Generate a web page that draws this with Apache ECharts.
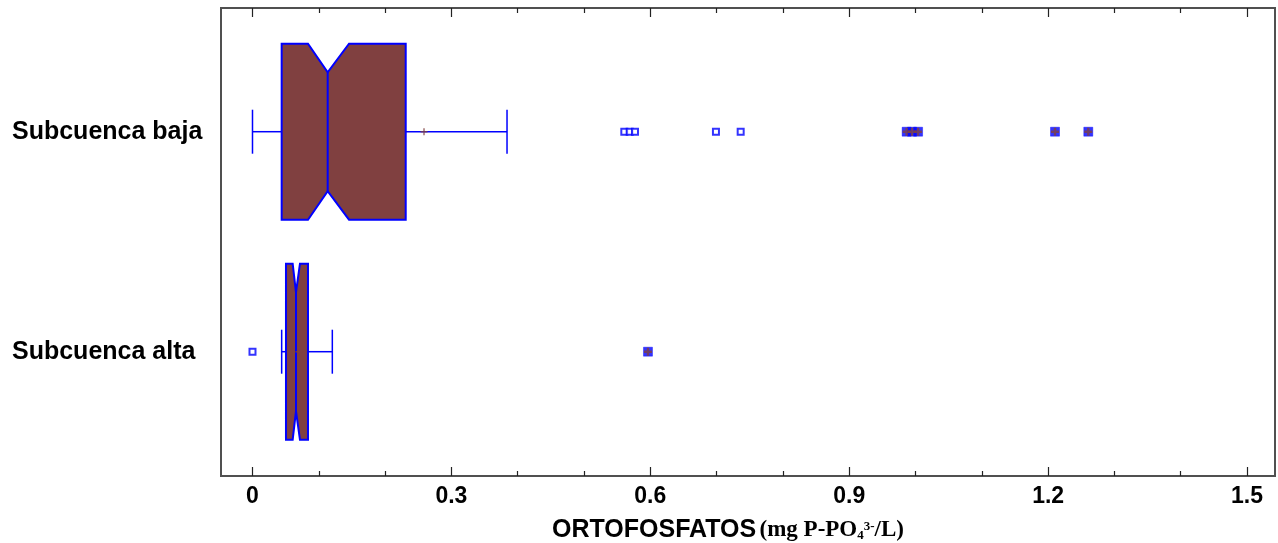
<!DOCTYPE html>
<html>
<head>
<meta charset="utf-8">
<script src="https://cdn.jsdelivr.net/npm/echarts@6/dist/echarts.min.js"></script>
<style>
html,body{margin:0;padding:0;background:#fff;}
#chart{width:1278px;height:543px;}
</style>
</head>
<body>
<div id="chart"></div>
<script>
// ---- data ----
const categories = ['Subcuenca alta', 'Subcuenca baja'];
// [whiskerLow, Q1, notchLow, median, notchHigh, Q3, whiskerHigh]
const boxStats = [
  [0.044, 0.0505, 0.0606, 0.0656, 0.0716, 0.0837, 0.1204],
  [0.000, 0.0440, 0.0837, 0.1134, 0.1456, 0.2311, 0.3839]
];
const means = [0.070, 0.2587];
// outside points (hollow squares)
const outsideAlta = [0.000];
const outsideBaja = [0.5608, 0.5689, 0.5769, 0.699, 0.7363];
// far outside points (squares with cross)
const farAlta = [0.5965];
const farBaja = [0.9866, 0.9947, 1.0039, 1.2104, 1.2606];
const majorTicks = [0, 0.3, 0.6, 0.9, 1.2, 1.5];
const minorTicks = [0.1, 0.2, 0.4, 0.5, 0.7, 0.8, 1.0, 1.1, 1.3, 1.4];

// ---- chart ----
const X_MIN = -0.0475, X_MAX = 1.5422;
const Y_MIN = -0.565, Y_MAX = 1.5623;
const HALF = 0.4, CAP = 0.1, NOTCH = 0.13;
const BLUE = '#0000ff', BROWN = '#804040';

const boxData = boxStats.map((s, i) => [i].concat(s));
const pts = (arr, idx) => arr.map(v => [v, idx]);

function renderBox(params, api) {
  const y = api.value(0);
  const wl = api.value(1), q1 = api.value(2), nl = api.value(3), md = api.value(4),
        nh = api.value(5), q3 = api.value(6), wh = api.value(7);
  const X = v => api.coord([v, y])[0];
  const yc = api.coord([0, y])[1];
  const yt = api.coord([0, y + HALF])[1];
  const yb = api.coord([0, y - HALF])[1];
  const yti = api.coord([0, y + HALF - NOTCH])[1];
  const ybi = api.coord([0, y - HALF + NOTCH])[1];
  const yct = api.coord([0, y + CAP])[1];
  const ycb = api.coord([0, y - CAP])[1];
  const poly = [
    [X(q1), yt], [X(nl), yt], [X(md), yti], [X(nh), yt], [X(q3), yt],
    [X(q3), yb], [X(nh), yb], [X(md), ybi], [X(nl), yb], [X(q1), yb]
  ];
  const ls = {stroke: BLUE, lineWidth: 1.5};
  return {
    type: 'group',
    children: [
      {type: 'line', shape: {x1: X(wl), y1: yc, x2: X(q1), y2: yc}, style: ls},
      {type: 'line', shape: {x1: X(q3), y1: yc, x2: X(wh), y2: yc}, style: ls},
      {type: 'line', shape: {x1: X(wl), y1: yct, x2: X(wl), y2: ycb}, style: ls},
      {type: 'line', shape: {x1: X(wh), y1: yct, x2: X(wh), y2: ycb}, style: ls},
      {type: 'polygon', shape: {points: poly}, style: {fill: BROWN, stroke: BLUE, lineWidth: 2}},
      {type: 'line', shape: {x1: X(md), y1: yti, x2: X(md), y2: ybi}, style: {stroke: BLUE, lineWidth: 2}}
    ]
  };
}

const crossPath = 'path://M-0.3,-1 L0.3,-1 L0.3,-0.3 L1,-0.3 L1,0.3 L0.3,0.3 L0.3,1 L-0.3,1 L-0.3,0.3 L-1,0.3 L-1,-0.3 L-0.3,-0.3 Z';
const meanPath = 'path://M-0.2,-1 L0.2,-1 L0.2,-0.2 L1,-0.2 L1,0.2 L0.2,0.2 L0.2,1 L-0.2,1 L-0.2,0.2 L-1,0.2 L-1,-0.2 L-0.2,-0.2 Z';

const chart = echarts.init(document.getElementById('chart'), null, {renderer: 'canvas'});
const tickLabelStyle = {fontFamily: 'Liberation Sans, Arial, sans-serif', fontWeight: 'bold', fontSize: 23, color: '#000'};
const baseX = {type: 'value', min: X_MIN, max: X_MAX, splitLine: {show: false}, axisLine: {show: false, onZero: false}};
const tickStyle = {color: '#222', width: 1.2};

chart.setOption({
  animation: false,
  backgroundColor: '#fff',
  grid: {left: 221, right: 3, top: 8, height: 468, outerBoundsMode: 'none', containLabel: false,
         show: true, borderColor: '#505050', borderWidth: 2, backgroundColor: 'transparent'},
  xAxis: [
    Object.assign({}, baseX, {
      position: 'bottom',
      axisTick: {inside: true, length: 9, customValues: majorTicks, lineStyle: tickStyle},
      axisLabel: Object.assign({customValues: majorTicks, margin: 9, formatter: v => String(v)}, tickLabelStyle),
      name: '{a|ORTOFOSFATOS} {b|(mg P-PO}{sub|4}{sup|3-}{b|/L)}',
      nameLocation: 'middle',
      nameGap: 40,
      nameTextStyle: {
        padding: [0, 40, 0, 0],
        rich: {
          a: {fontFamily: 'Liberation Sans, Arial, sans-serif', fontWeight: 'bold', fontSize: 25, color: '#000', lineHeight: 28},
          b: {fontFamily: 'Liberation Serif, Times New Roman, serif', fontWeight: 'bold', fontSize: 23, color: '#000', lineHeight: 28},
          sub: {fontFamily: 'Liberation Serif, Times New Roman, serif', fontWeight: 'bold', fontSize: 13, color: '#000', lineHeight: 28, verticalAlign: 'bottom', padding: [0, 0, 2, 0]},
          sup: {fontFamily: 'Liberation Serif, Times New Roman, serif', fontWeight: 'bold', fontSize: 13, color: '#000', lineHeight: 28, verticalAlign: 'top', padding: [4, 0, 0, 0]}
        }
      }
    }),
    Object.assign({}, baseX, {
      position: 'bottom',
      axisTick: {inside: true, length: 5, customValues: minorTicks, lineStyle: tickStyle},
      axisLabel: {show: false}
    }),
    Object.assign({}, baseX, {
      position: 'top',
      axisTick: {inside: true, length: 9, customValues: majorTicks, lineStyle: tickStyle},
      axisLabel: {show: false}
    }),
    Object.assign({}, baseX, {
      position: 'top',
      axisTick: {inside: true, length: 5, customValues: minorTicks, lineStyle: tickStyle},
      axisLabel: {show: false}
    })
  ],
  yAxis: {
    type: 'value', min: Y_MIN, max: Y_MAX,
    splitLine: {show: false}, axisLine: {show: false, onZero: false}, axisTick: {show: false},
    axisLabel: {
      customValues: [0, 1], margin: 209, align: 'left',
      formatter: v => categories[Math.round(v)] || '',
      fontFamily: 'Liberation Sans, Arial, sans-serif', fontWeight: 'bold', fontSize: 25, color: '#000'
    }
  },
  series: [
    {type: 'custom', renderItem: renderBox, data: boxData, encode: {x: [1, 2, 3, 4, 5, 6, 7], y: 0}, z: 2},
    {type: 'scatter', data: means.map((v, i) => [v, i]), symbol: meanPath, symbolSize: 7, itemStyle: {color: BROWN}, z: 3},
    {type: 'scatter', data: pts(outsideAlta, 0).concat(pts(outsideBaja, 1)), symbol: 'rect', symbolSize: 6,
     itemStyle: {color: '#fff', borderColor: BLUE, borderWidth: 2}, z: 4},
    {type: 'scatter', data: pts(farAlta, 0).concat(pts(farBaja, 1)), symbol: 'rect', symbolSize: 9,
     itemStyle: {color: BLUE, borderColor: BLUE, borderWidth: 0.5}, z: 4},
    {type: 'scatter', data: pts(farAlta, 0).concat(pts(farBaja, 1)), symbol: crossPath, symbolSize: 8,
     itemStyle: {color: BROWN}, z: 5}
  ]
});
</script>
</body>
</html>
